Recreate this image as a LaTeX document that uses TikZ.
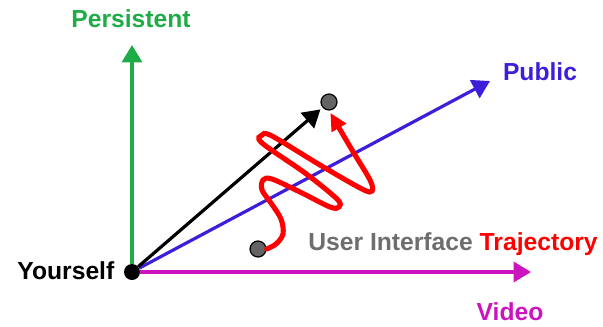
\documentclass[tikz,border=0pt]{standalone}
\usepackage{fontspec}
\setmainfont{Liberation Sans}
\usetikzlibrary{arrows.meta}

\definecolor{persistgreen}{RGB}{30,172,70}
\definecolor{publicblue}{RGB}{62,30,218}
\definecolor{videopink}{RGB}{204,20,190}
\definecolor{uigray}{RGB}{110,110,110}
\definecolor{dotgray}{RGB}{100,100,100}

\tikzstyle{axis} = [line width=2.4pt,-{Triangle[length=13pt,width=15pt]}]
\tikzstyle{state} = [circle,draw=black,line width=0.9pt,fill=dotgray,minimum size=12pt,inner sep=0pt]
\tikzstyle{every node}=[font=\fontsize{18.5}{22}\selectfont\bfseries]

\begin{document}
\begin{tikzpicture}[x=0.75pt,y=-0.75pt]
	\useasboundingbox (0,0) rectangle (603,326);
	\node[circle,fill=black,minimum size=12pt,inner sep=0pt] (you) at (132,272) {};
	\node[anchor=east] (yourself) at (119,271) {Yourself};
	\node[state] (uiend) at (329,102) {};
	\node[state] (uistart) at (258,249) {};
	\coordinate (persisttip) at (132,45);
	\coordinate (publictip) at (490,81);
	\coordinate (videotip) at (531,272);
	\node[persistgreen] (persist) at (131,19) {Persistent};
	\node[publicblue] (public) at (540,72) {Public};
	\node[videopink] (video) at (510,312) {Video};
	\node (uitext) at (453,244) {\textcolor{uigray}{User Interface} \textcolor{red}{Trajectory}};
	\draw[axis,persistgreen] (you) -- (persisttip);
	\draw[axis,videopink] (you) -- (videotip);
	\draw[axis,publicblue] (you) -- (publictip);
	\draw[axis,black,shorten >=2pt] (you) -- (uiend);
	% trajectory
	\draw[red,line width=3.8pt,line cap=round,shorten >=2pt,-{Triangle[length=13pt,width=12pt]}]
		plot[smooth,tension=0.55] coordinates {(uistart.east) (276,244) (283,234) (281,219) (271,203) (262,190) (263,180) (272,179) (300,192) (330,207) (339,207) (337,199) (305,173) (262,143) (262,135) (272,136) (320,165) (362,189) (372,191) (370,180) (352,150) (uiend.south)};
\end{tikzpicture}
\end{document}
